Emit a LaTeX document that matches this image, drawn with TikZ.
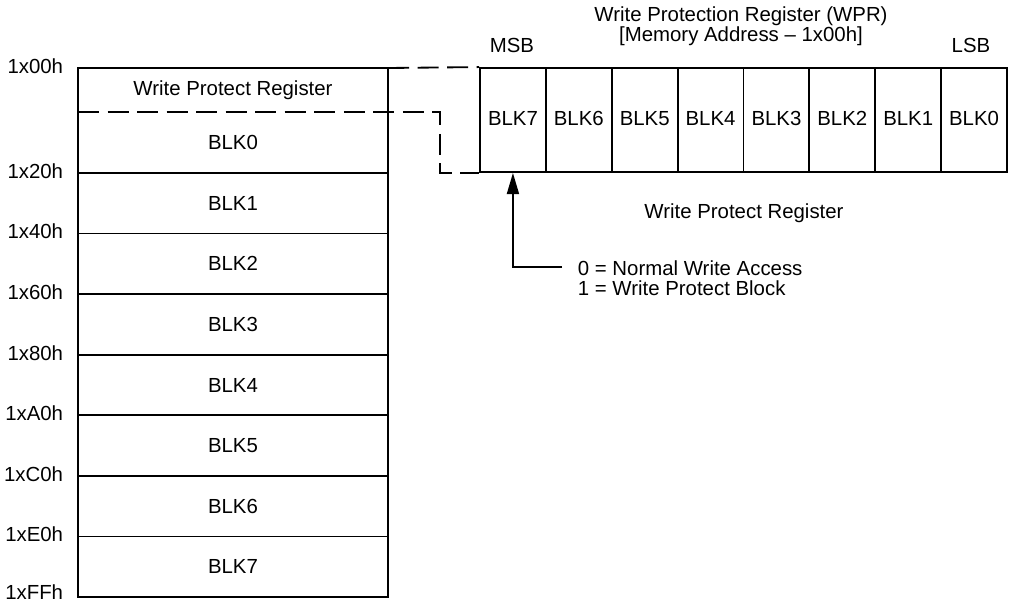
\documentclass[tikz,border=0pt]{standalone}
\usepackage{fontspec}
\setmainfont{Liberation Sans}
\usetikzlibrary{arrows.meta,positioning,calc}

\begin{document}
\begin{tikzpicture}[x=0.025cm,y=-0.025cm,line width=1.3pt,
  lbl/.style={font=\fontsize{14.5}{16}\selectfont,inner sep=0pt},
  addr/.style={lbl,anchor=east},
  bitcell/.style={draw,minimum width=1.647cm,minimum height=2.6cm,inner sep=0pt,
    text height=1.5ex,text depth=0pt,font=\fontsize{14.5}{16}\selectfont},
  link/.style={dash pattern=on 15pt off 6pt}]
  \useasboundingbox (0,0) rectangle (1013,604);
  % Memory map
  \draw (78,68) rectangle (388,597);
  \foreach \k in {0,...,6} \draw (78,{173+60.57*\k}) -- (388,{173+60.57*\k});
  \node[addr] (a00) at (64,66) {1x00h};
  \foreach \a [count=\k from 0] in {1x20h,1x40h,1x60h,1x80h,1xA0h,1xC0h,1xE0h}
    \node[addr] (a\k) at (64,{173+60.57*\k-2}) {\a};
  \node[addr] (a7) at (64,592) {1xFFh};
  \node[lbl] (wpr) at (233,90) {Write Protect Register};
  \node[lbl] (m0) at (233,142) {BLK0};
  \foreach \k in {1,...,7} \node[lbl] (m\k) at (233,{173+60.57*(\k-0.5)}) {BLK\k};
  % WPR bits
  \node[lbl,align=center,font=\fontsize{14.5}{12}\selectfont] (title) at (741,26)
    {Write Protection Register (WPR)\\{[}Memory Address -- 1x00h{]}};
  \foreach \i in {0,...,7} \node[bitcell] (r\i) at ({1007-65.875*(\i+0.5)},120) {BLK\i};
  \node[lbl] (msb) at (512,45) {MSB};
  \node[lbl] (lsb) at (971,45) {LSB};
  \node[lbl] (reglbl) at (744,213) {Write Protect Register};
  % Dashed links
  \coordinate (coltop) at (388,68);
  \coordinate (sepL) at (78,112);
  \coordinate (sepR) at (440,112);
  \draw[link] (coltop) -- (r7.north west);
  \draw[link] (sepL) -- (sepR) |- (r7.south west);
  % Bit meaning
  \node[lbl,anchor=west,align=left,font=\fontsize{14.5}{14.2}\selectfont] (note) at (577,278)
    {0 = Normal Write Access\\1 = Write Protect Block};
  \coordinate (tail) at (562,267);
  \draw[-{Triangle[length=15pt,width=8.5pt]}] (tail) -| (r7.south);
\end{tikzpicture}
\end{document}
